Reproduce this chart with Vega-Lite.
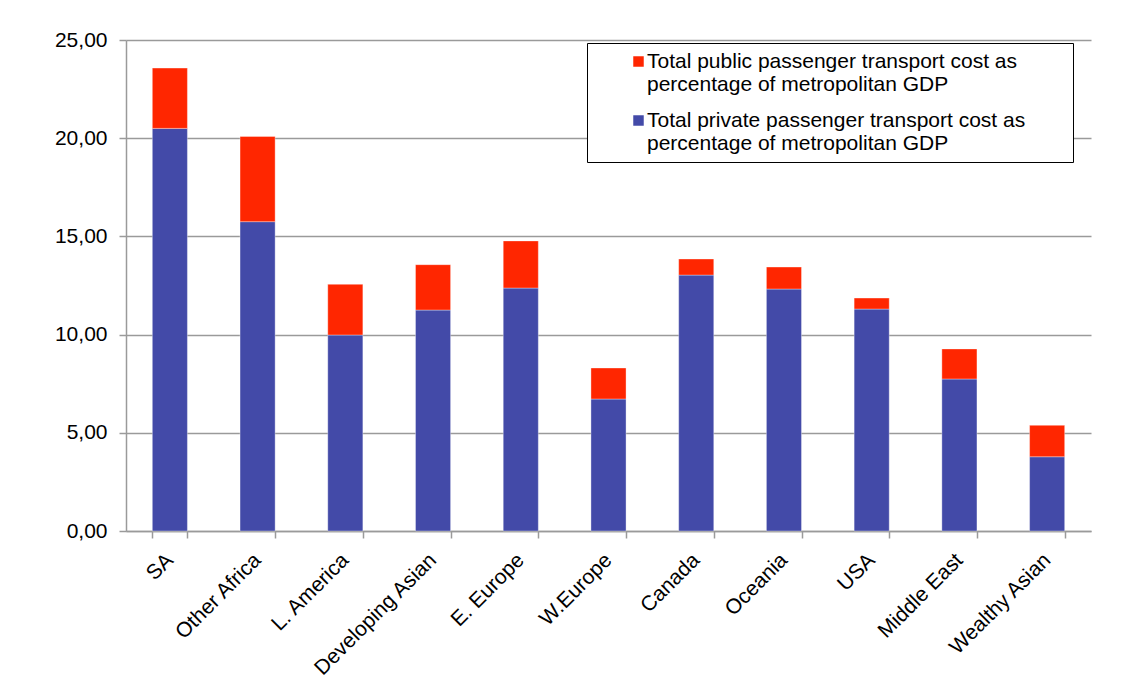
{
  "$schema": "https://vega.github.io/schema/vega-lite/v6.json",
  "width": 965,
  "height": 491,
  "autosize": {"type": "none"},
  "padding": {"left": 126, "top": 40, "right": 31, "bottom": 164},
  "background": "white",
  "config": {
    "view": {"stroke": null},
    "font": "Liberation Sans",
    "axis": {
      "labelFont": "Liberation Sans",
      "labelColor": "black",
      "labelFontSize": 21,
      "domainColor": "#9a9a9a",
      "domainWidth": 1.5,
      "tickColor": "#9a9a9a",
      "tickWidth": 1.5,
      "gridColor": "#9a9a9a",
      "gridWidth": 1.5
    }
  },
  "data": {
    "values": [
      {"region": "SA", "series": "Total private passenger transport cost as|percentage of metropolitan GDP", "value": 20.50},
      {"region": "SA", "series": "Total public passenger transport cost as|percentage of metropolitan GDP", "value": 3.07},
      {"region": "Other Africa", "series": "Total private passenger transport cost as|percentage of metropolitan GDP", "value": 15.75},
      {"region": "Other Africa", "series": "Total public passenger transport cost as|percentage of metropolitan GDP", "value": 4.34},
      {"region": "L. America", "series": "Total private passenger transport cost as|percentage of metropolitan GDP", "value": 9.98},
      {"region": "L. America", "series": "Total public passenger transport cost as|percentage of metropolitan GDP", "value": 2.58},
      {"region": "Developing Asian", "series": "Total private passenger transport cost as|percentage of metropolitan GDP", "value": 11.25},
      {"region": "Developing Asian", "series": "Total public passenger transport cost as|percentage of metropolitan GDP", "value": 2.31},
      {"region": "E. Europe", "series": "Total private passenger transport cost as|percentage of metropolitan GDP", "value": 12.37},
      {"region": "E. Europe", "series": "Total public passenger transport cost as|percentage of metropolitan GDP", "value": 2.40},
      {"region": "W.Europe", "series": "Total private passenger transport cost as|percentage of metropolitan GDP", "value": 6.72},
      {"region": "W.Europe", "series": "Total public passenger transport cost as|percentage of metropolitan GDP", "value": 1.58},
      {"region": "Canada", "series": "Total private passenger transport cost as|percentage of metropolitan GDP", "value": 13.03},
      {"region": "Canada", "series": "Total public passenger transport cost as|percentage of metropolitan GDP", "value": 0.82},
      {"region": "Oceania", "series": "Total private passenger transport cost as|percentage of metropolitan GDP", "value": 12.32},
      {"region": "Oceania", "series": "Total public passenger transport cost as|percentage of metropolitan GDP", "value": 1.12},
      {"region": "USA", "series": "Total private passenger transport cost as|percentage of metropolitan GDP", "value": 11.30},
      {"region": "USA", "series": "Total public passenger transport cost as|percentage of metropolitan GDP", "value": 0.56},
      {"region": "Middle East", "series": "Total private passenger transport cost as|percentage of metropolitan GDP", "value": 7.74},
      {"region": "Middle East", "series": "Total public passenger transport cost as|percentage of metropolitan GDP", "value": 1.53},
      {"region": "Wealthy Asian", "series": "Total private passenger transport cost as|percentage of metropolitan GDP", "value": 3.78},
      {"region": "Wealthy Asian", "series": "Total public passenger transport cost as|percentage of metropolitan GDP", "value": 1.60}
    ]
  },
  "mark": {"type": "bar", "stroke": "white", "strokeOpacity": 0.35, "strokeWidth": 1},
  "encoding": {
    "x": {
      "field": "region",
      "type": "nominal",
      "sort": null,
      "scale": {"paddingInner": 0.6, "paddingOuter": 0.3},
      "axis": {
        "title": null,
        "labelAngle": -45,
        "tickBand": "extent",
        "tickSize": 7,
        "labelPadding": 11,
        "labelOffset": -8
      }
    },
    "y": {
      "field": "value",
      "type": "quantitative",
      "stack": "zero",
      "scale": {"domain": [0, 25], "nice": false},
      "axis": {
        "title": null,
        "values": [0, 5, 10, 15, 20, 25],
        "labelExpr": "replace(format(datum.value, '.2f'), '.', ',')",
        "tickSize": 7,
        "labelPadding": 12
      }
    },
    "color": {
      "field": "series",
      "type": "nominal",
      "scale": {
        "domain": [
          "Total public passenger transport cost as|percentage of metropolitan GDP",
          "Total private passenger transport cost as|percentage of metropolitan GDP"
        ],
        "range": ["#FF2600", "#434AA8"]
      },
      "legend": {
        "title": "\u00a0",
        "titleOrient": "right",
        "titlePadding": 40,
        "titleFontSize": 21,
        "orient": "none",
        "legendX": 461,
        "legendY": 3,
        "padding": 8,
        "strokeColor": "black",
        "fillColor": "white",
        "symbolType": "square",
        "symbolSize": 110,
        "symbolStrokeWidth": 0,
        "symbolOffset": 33,
        "labelFont": "Liberation Sans",
        "labelFontSize": 21,
        "labelColor": "black",
        "labelLimit": 600,
        "labelOffset": -2,
        "rowPadding": 14,
        "labelExpr": "split(datum.label, '|')",
        "encode": {
          "legend": {"update": {"strokeWidth": {"value": 1.5}}}
        }
      }
    },
    "order": {"field": "series", "sort": "ascending"}
  }
}
